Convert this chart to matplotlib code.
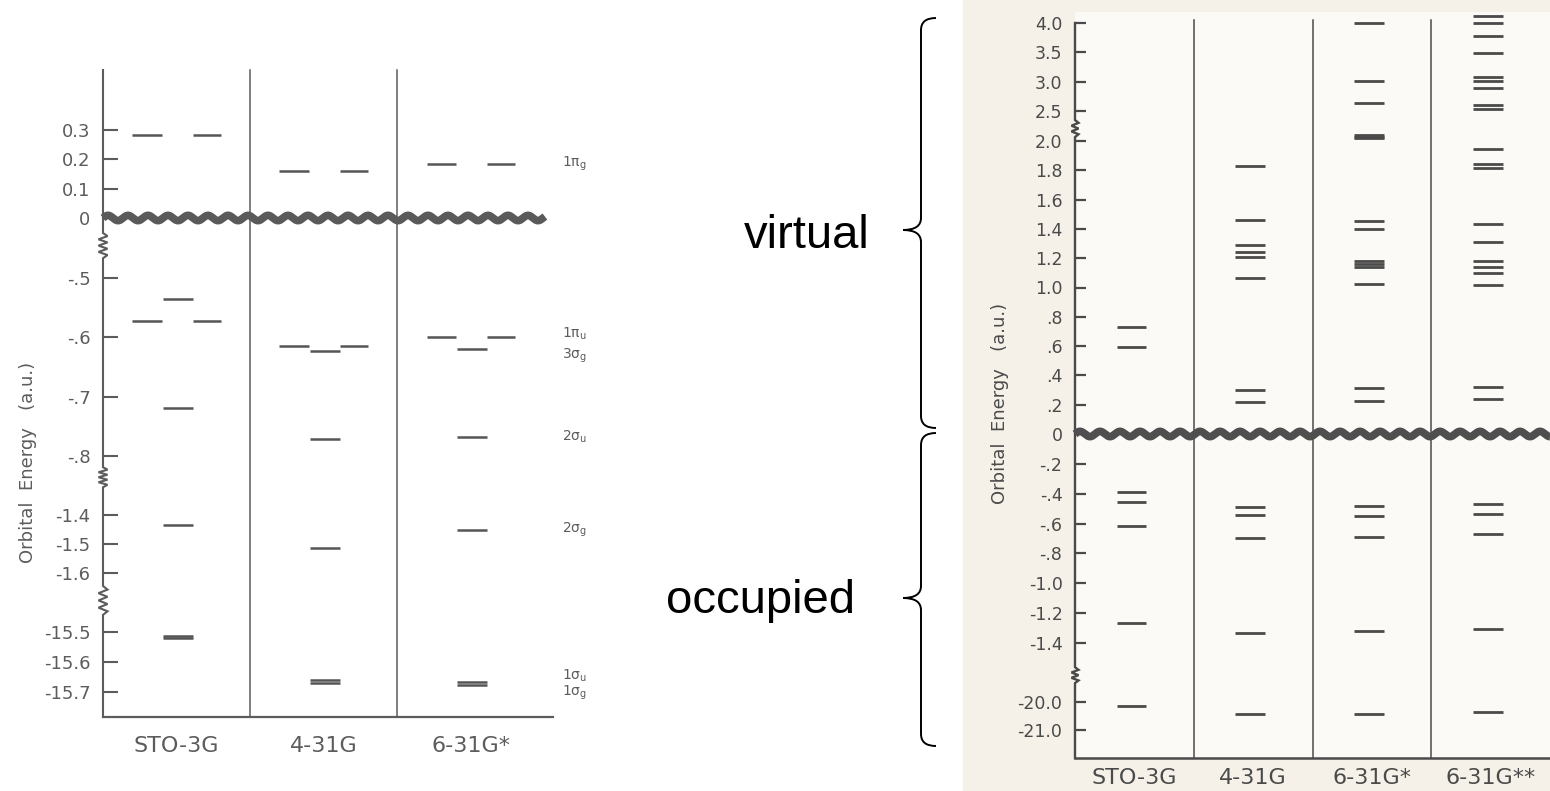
import numpy as np
import matplotlib
matplotlib.use("Agg")
import matplotlib.pyplot as plt
import matplotlib.transforms as mtransforms
from matplotlib.path import Path
from matplotlib.patches import PathPatch, Rectangle

plt.rcParams["mathtext.default"] = "regular"

# ---------------- data ----------------
# Left panel (N2-like): basis sets and orbital energies (a.u.)
left_bases = ["STO-3G", "4-31G", "6-31G*"]
left_orbitals = ["1pig", "1piu", "3sg", "2su", "2sg", "1su", "1sg"]
left_orbital_labels = [r"$1\pi_g$", r"$1\pi_u$", r"$3\sigma_g$", r"$2\sigma_u$",
                       r"$2\sigma_g$", r"$1\sigma_u$", r"$1\sigma_g$"]
left_degenerate = [True, True, False, False, False, False, False]
E_1pig = [0.281, 0.159, 0.183]
E_1piu = [-0.573, -0.615, -0.600]
E_3sg = [-0.535, -0.623, -0.620]
E_2su = [-0.719, -0.771, -0.768]
E_2sg = [-1.434, -1.514, -1.452]
E_1su = [-15.512, -15.661, -15.668]
E_1sg = [-15.520, -15.669, -15.676]
left_energies = [E_1pig, E_1piu, E_3sg, E_2su, E_2sg, E_1su, E_1sg]

left_ticks = [0.3, 0.2, 0.1, 0, -0.5, -0.6, -0.7, -0.8, -1.4, -1.5, -1.6,
              -15.5, -15.6, -15.7]
left_ticklabels = ["0.3", "0.2", "0.1", "0", "-.5", "-.6", "-.7", "-.8",
                   "-1.4", "-1.5", "-1.6", "-15.5", "-15.6", "-15.7"]

# Right panel (H2O-like): all orbital energies per basis set (a.u.)
right_bases = ["STO-3G", "4-31G", "6-31G*", "6-31G**"]
R_sto = [0.730, 0.594, -0.388, -0.455, -0.616, -1.266, -20.14]
R_431 = [1.829, 1.461, 1.290, 1.242, 1.208, 1.065, 0.300, 0.218,
         -0.489, -0.543, -0.697, -1.333, -20.43]
R_631s = [4.00, 3.01, 2.64, 2.092, 2.067, 2.042, 1.454, 1.399, 1.181, 1.160,
          1.140, 1.024, 0.314, 0.225, -0.482, -0.549, -0.690, -1.319, -20.43]
R_631ss = [4.119, 4.00, 3.778, 3.488, 3.080, 3.011, 2.892, 2.602, 2.534, 1.945,
           1.843, 1.816, 1.433, 1.311, 1.181, 1.140, 1.099, 1.017, 0.321, 0.239,
           -0.469, -0.536, -0.670, -1.306, -20.36]
right_energies = [R_sto, R_431, R_631s, R_631ss]

right_ticks = [4.0, 3.5, 3.0, 2.5, 2.0, 1.8, 1.6, 1.4, 1.2, 1.0, 0.8, 0.6, 0.4,
               0.2, 0, -0.2, -0.4, -0.6, -0.8, -1.0, -1.2, -1.4, -20.0, -21.0]
right_ticklabels = ["4.0", "3.5", "3.0", "2.5", "2.0", "1.8", "1.6", "1.4",
                    "1.2", "1.0", ".8", ".6", ".4", ".2", "0", "-.2", "-.4",
                    "-.6", "-.8", "-1.0", "-1.2", "-1.4", "-20.0", "-21.0"]

# broken-axis scale definitions (energy breakpoints -> relative axis length)
left_scale_E = [-15.783, -15.7, -15.5, -1.6, -1.4, -0.8, -0.5, 0.0, 0.5017]
left_scale_L = [0, 25, 85, 144, 202, 261, 439, 499, 647]
right_scale_E = [-22.0, -21.0, -20.0, -1.4, 0.0, 2.0, 2.5, 4.0, 4.19]
right_scale_L = [0, 28, 56, 115, 324, 617, 647, 735, 746]

# ---------------- helpers ----------------
W, H = 1550, 791


def fx(px):
    return px / W


def fy(py):
    return 1 - py / H


def make_scale(E, L):
    E = np.asarray(E, float)
    L = np.asarray(L, float)

    def interp_ext(x, xp, yp):
        x = np.asarray(x, float)
        y = np.interp(x, xp, yp)
        lo_s = (yp[1] - yp[0]) / (xp[1] - xp[0])
        hi_s = (yp[-1] - yp[-2]) / (xp[-1] - xp[-2])
        y = np.where(x < xp[0], yp[0] + (x - xp[0]) * lo_s, y)
        y = np.where(x > xp[-1], yp[-1] + (x - xp[-1]) * hi_s, y)
        return y

    fwd = lambda x: interp_ext(x, E, L)
    inv = lambda u: interp_ext(u, L, E)
    return fwd, inv


def draw_spine(ax, fwd, inv, e_top, e_bot, breaks, ax_w_px, color, lw,
               zig_px=4.5, n=4):
    trans = mtransforms.blended_transform_factory(ax.transAxes, ax.transData)
    xs, us = [0.0], [float(fwd(e_top))]
    for ea, eb, fa, fb in breaks:
        ua, ub = float(fwd(ea)), float(fwd(eb))
        s = ua + fa * (ub - ua)
        e = ua + fb * (ub - ua)
        xs.append(0.0)
        us.append(s)
        for k in range(1, 2 * n):
            sign = 1 if k % 2 else -1
            xs.append(sign * zig_px / ax_w_px)
            us.append(s + k / (2 * n) * (e - s))
        xs.append(0.0)
        us.append(e)
    xs.append(0.0)
    us.append(float(fwd(e_bot)))
    ax.plot(xs, inv(np.array(us)), transform=trans, color=color, lw=lw,
            clip_on=False, zorder=3, solid_joinstyle="miter")


def draw_wave(ax, fwd, ylim, x_end, ax_w_px, ax_h_px, color, lw=5.2,
              amp_px=2.6, period_px=20.0):
    u0 = float(fwd(0.0))
    ulo, uhi = float(fwd(ylim[0])), float(fwd(ylim[1]))
    yf = (u0 - ulo) / (uhi - ulo)
    xs = np.linspace(0, x_end, 1500)
    ys = yf + amp_px / ax_h_px * np.sin(2 * np.pi * xs * ax_w_px / period_px)
    ax.plot(xs, ys, transform=ax.transAxes, color=color, lw=lw,
            solid_capstyle="butt", clip_on=False, zorder=4)


def brace(fig, x_spine, x_tip, x_end, y0, ymid, y1, r=12, lw=1.4):
    pts = [(x_end, y0), (x_spine, y0), (x_spine, y0 + r),
           (x_spine, ymid - r),
           (x_spine, ymid), (x_tip, ymid),
           (x_spine, ymid), (x_spine, ymid + r),
           (x_spine, y1 - r),
           (x_spine, y1), (x_end, y1)]
    codes = [Path.MOVETO, Path.CURVE3, Path.CURVE3, Path.LINETO,
             Path.CURVE3, Path.CURVE3, Path.CURVE3, Path.CURVE3,
             Path.LINETO, Path.CURVE3, Path.CURVE3]
    verts = [(fx(x), fy(y)) for x, y in pts]
    fig.patches.append(PathPatch(Path(verts, codes), transform=fig.transFigure,
                                 fill=False, lw=lw, color="black"))


# ---------------- figure ----------------
fig = plt.figure(figsize=(15.5, 7.91), dpi=100)
fig.patch.set_facecolor("white")

# scanned page background of the right figure
fig.patches.append(Rectangle((fx(963), 0), 1 - fx(963), 1,
                             transform=fig.transFigure, color="#f5f1e8",
                             zorder=-10))

# ---- left panel ----
gl = "#5c5c5c"
axL_px = (103, 70, 553, 717)
axL = fig.add_axes([fx(axL_px[0]), fy(axL_px[3]),
                    (axL_px[2] - axL_px[0]) / W, (axL_px[3] - axL_px[1]) / H])
axL.patch.set_alpha(0)
fwdL, invL = make_scale(left_scale_E, left_scale_L)
axL.set_yscale("function", functions=(fwdL, invL))
ylimL = (left_scale_E[0], left_scale_E[-1])
axL.set_ylim(*ylimL)
axL.set_xlim(0, 3.06)
for s in ["top", "right", "left"]:
    axL.spines[s].set_visible(False)
axL.spines["bottom"].set_color(gl)
axL.spines["bottom"].set_linewidth(1.6)
axL.set_yticks(left_ticks)
axL.set_yticklabels(left_ticklabels)
axL.yaxis.set_minor_locator(matplotlib.ticker.NullLocator())
axL.tick_params(axis="y", direction="in", length=11, width=1.5, pad=9,
                labelsize=13, colors=gl)
axL.set_xticks([0.5, 1.5, 2.5])
axL.set_xticklabels(left_bases)
axL.tick_params(axis="x", length=0, pad=14, labelsize=16, colors=gl)

for xd in [1, 2]:
    axL.plot([xd, xd], [ylimL[0], ylimL[1]], color=gl, lw=1.1, zorder=2,
             clip_on=False)

draw_spine(axL, fwdL, invL, ylimL[1], ylimL[0],
           [(0.0, -0.5, 0.25, 0.67), (-0.8, -1.4, 0.19, 0.53),
            (-1.6, -15.5, 0.22, 0.71)], 450, gl, 1.5)
draw_wave(axL, fwdL, ylimL, 0.982, 450, 647, "#5a5a5a", lw=5.6)

for oi, (energies, deg) in enumerate(zip(left_energies, left_degenerate)):
    for bi, e in enumerate(energies):
        if deg:
            spans = [(bi + 0.20, bi + 0.40), (bi + 0.61, bi + 0.80)]
        else:
            spans = [(bi + 0.41, bi + 0.61)]
        for a, b in spans:
            axL.hlines(e, a, b, color="#555555", lw=1.8, zorder=3)

label_offsets = [0, 2.5, -5, 0, 0, 4.5, -6]
for lab, energies, off in zip(left_orbital_labels, left_energies, label_offsets):
    axL.annotate(lab, (3.12, energies[-1]), xytext=(0, off),
                 textcoords="offset points", ha="left", va="center",
                 fontsize=10, color=gl, annotation_clip=False)

fig.text(fx(28), fy(462), "Orbital  Energy   (a.u.)", rotation=90,
         ha="center", va="center", fontsize=13, color=gl)

# ---- right panel ----
gr = "#4a4a4a"
axR_px = (1075, 12, 1550, 758)
axR = fig.add_axes([fx(axR_px[0]), fy(axR_px[3]),
                    (axR_px[2] - axR_px[0]) / W, (axR_px[3] - axR_px[1]) / H])
axR.set_facecolor("#fbfaf6")
fwdR, invR = make_scale(right_scale_E, right_scale_L)
axR.set_yscale("function", functions=(fwdR, invR))
ylimR = (right_scale_E[0], right_scale_E[-1])
axR.set_ylim(*ylimR)
axR.set_xlim(0, 4)
for s in ["top", "right", "left"]:
    axR.spines[s].set_visible(False)
axR.spines["bottom"].set_color(gr)
axR.spines["bottom"].set_linewidth(1.8)
axR.set_yticks(right_ticks)
axR.set_yticklabels(right_ticklabels)
axR.yaxis.set_minor_locator(matplotlib.ticker.NullLocator())
axR.tick_params(axis="y", direction="in", length=8, width=1.6, pad=9,
                labelsize=12.5, colors=gr)
axR.set_xticks([0.5, 1.5, 2.5, 3.5])
axR.set_xticklabels(right_bases)
axR.tick_params(axis="x", length=0, pad=7, labelsize=16, colors=gr)

for xd in [1, 2, 3]:
    axR.plot([xd, xd], [ylimR[0], 4.05], color=gr, lw=1.1, zorder=2,
             clip_on=False)

draw_spine(axR, fwdR, invR, 4.0, ylimR[0],
           [(2.5, 2.0, 0.30, 0.87), (-1.4, -20.0, 0.41, 0.68)], 475, gr, 1.7,
           zig_px=3.5, n=3)
draw_wave(axR, fwdR, ylimR, 1.0, 475, 746, "#4f4f4f", lw=5.6)

for bi, energies in enumerate(right_energies):
    axR.hlines(energies, bi + 0.35, bi + 0.60, color="#4a4a4a", lw=2.0,
               zorder=3, clip_on=False)

fig.text(fx(1000), fy(403), "Orbital  Energy   (a.u.)", rotation=90,
         ha="center", va="center", fontsize=13, color=gr)

# ---- annotations between panels ----
fig.text(fx(807), fy(248), "virtual", fontsize=34, family="Liberation Sans",
         ha="center", va="baseline", color="black")
fig.text(fx(760), fy(613), "occupied", fontsize=34, family="Liberation Sans",
         ha="center", va="baseline", color="black")
brace(fig, 921, 903, 936, 18, 230, 428)
brace(fig, 921, 903, 936, 433, 598, 746)

fig.savefig("out.png", dpi=100)
